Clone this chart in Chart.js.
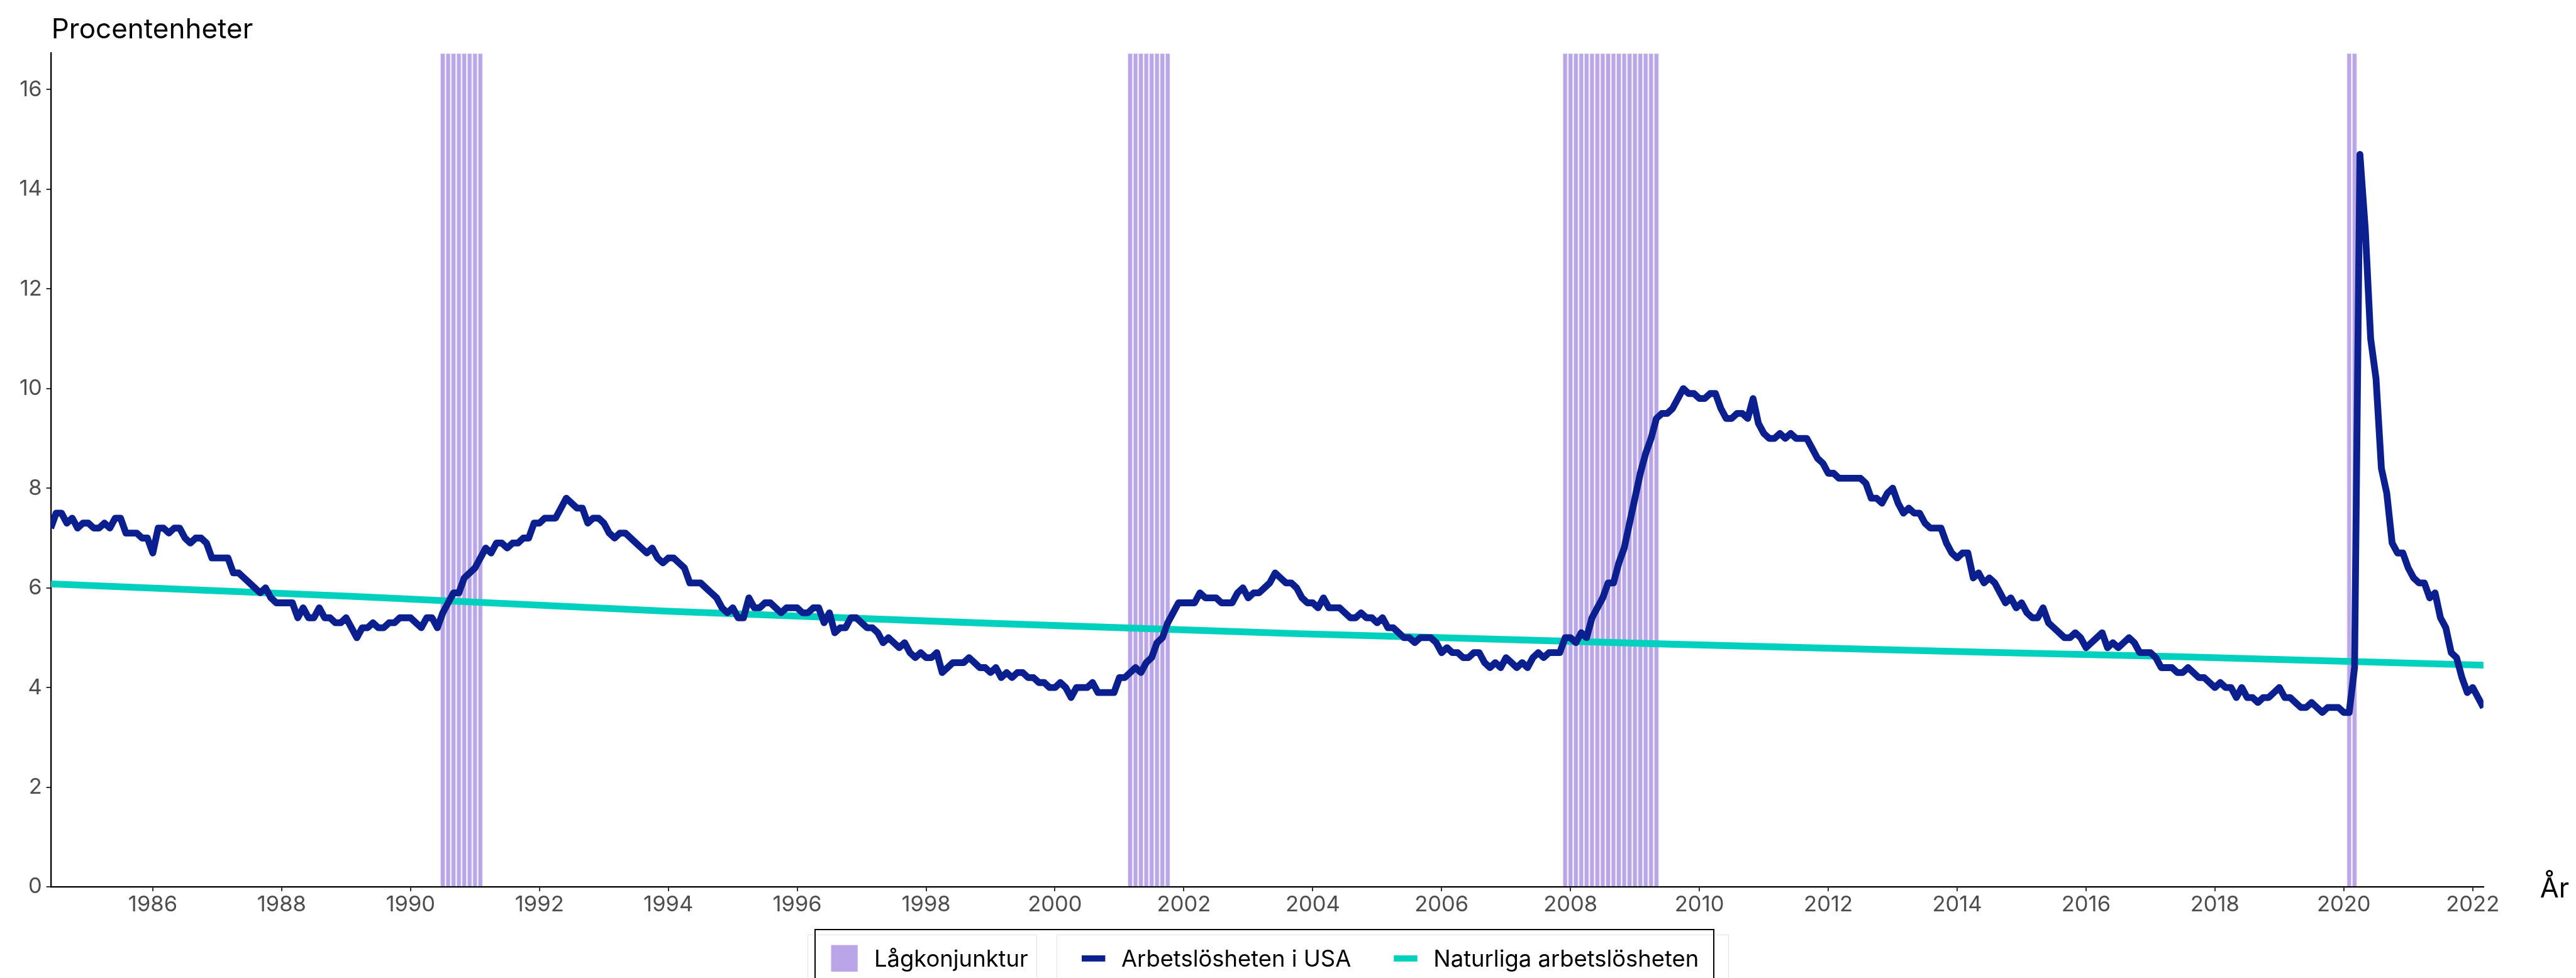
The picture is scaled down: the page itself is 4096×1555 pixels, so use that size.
<!DOCTYPE html>
<html>
<head>
<meta charset="utf-8">
<script src="https://cdn.jsdelivr.net/npm/chart.js@4.4.1/dist/chart.umd.min.js"></script>
<style>
  html, body { margin: 0; padding: 0; background: #fff; }
  #wrap { width: 4096px; height: 1555px; }
</style>
</head>
<body>
<div id="wrap"><canvas id="chart" width="4096" height="1555"></canvas></div>
<script>
// monthly US unemployment rate (%), first value is June 1984
var unempStart = [1984, 6];
var unempRate = [
  7.2, 7.5, 7.5, 7.3, 7.4, 7.2, 7.3,
  7.3, 7.2, 7.2, 7.3, 7.2, 7.4, 7.4, 7.1, 7.1, 7.1, 7.0, 7.0,
  6.7, 7.2, 7.2, 7.1, 7.2, 7.2, 7.0, 6.9, 7.0, 7.0, 6.9, 6.6,
  6.6, 6.6, 6.6, 6.3, 6.3, 6.2, 6.1, 6.0, 5.9, 6.0, 5.8, 5.7,
  5.7, 5.7, 5.7, 5.4, 5.6, 5.4, 5.4, 5.6, 5.4, 5.4, 5.3, 5.3,
  5.4, 5.2, 5.0, 5.2, 5.2, 5.3, 5.2, 5.2, 5.3, 5.3, 5.4, 5.4,
  5.4, 5.3, 5.2, 5.4, 5.4, 5.2, 5.5, 5.7, 5.9, 5.9, 6.2, 6.3,
  6.4, 6.6, 6.8, 6.7, 6.9, 6.9, 6.8, 6.9, 6.9, 7.0, 7.0, 7.3,
  7.3, 7.4, 7.4, 7.4, 7.6, 7.8, 7.7, 7.6, 7.6, 7.3, 7.4, 7.4,
  7.3, 7.1, 7.0, 7.1, 7.1, 7.0, 6.9, 6.8, 6.7, 6.8, 6.6, 6.5,
  6.6, 6.6, 6.5, 6.4, 6.1, 6.1, 6.1, 6.0, 5.9, 5.8, 5.6, 5.5,
  5.6, 5.4, 5.4, 5.8, 5.6, 5.6, 5.7, 5.7, 5.6, 5.5, 5.6, 5.6,
  5.6, 5.5, 5.5, 5.6, 5.6, 5.3, 5.5, 5.1, 5.2, 5.2, 5.4, 5.4,
  5.3, 5.2, 5.2, 5.1, 4.9, 5.0, 4.9, 4.8, 4.9, 4.7, 4.6, 4.7,
  4.6, 4.6, 4.7, 4.3, 4.4, 4.5, 4.5, 4.5, 4.6, 4.5, 4.4, 4.4,
  4.3, 4.4, 4.2, 4.3, 4.2, 4.3, 4.3, 4.2, 4.2, 4.1, 4.1, 4.0,
  4.0, 4.1, 4.0, 3.8, 4.0, 4.0, 4.0, 4.1, 3.9, 3.9, 3.9, 3.9,
  4.2, 4.2, 4.3, 4.4, 4.3, 4.5, 4.6, 4.9, 5.0, 5.3, 5.5, 5.7,
  5.7, 5.7, 5.7, 5.9, 5.8, 5.8, 5.8, 5.7, 5.7, 5.7, 5.9, 6.0,
  5.8, 5.9, 5.9, 6.0, 6.1, 6.3, 6.2, 6.1, 6.1, 6.0, 5.8, 5.7,
  5.7, 5.6, 5.8, 5.6, 5.6, 5.6, 5.5, 5.4, 5.4, 5.5, 5.4, 5.4,
  5.3, 5.4, 5.2, 5.2, 5.1, 5.0, 5.0, 4.9, 5.0, 5.0, 5.0, 4.9,
  4.7, 4.8, 4.7, 4.7, 4.6, 4.6, 4.7, 4.7, 4.5, 4.4, 4.5, 4.4,
  4.6, 4.5, 4.4, 4.5, 4.4, 4.6, 4.7, 4.6, 4.7, 4.7, 4.7, 5.0,
  5.0, 4.9, 5.1, 5.0, 5.4, 5.6, 5.8, 6.1, 6.1, 6.5, 6.8, 7.3,
  7.8, 8.3, 8.7, 9.0, 9.4, 9.5, 9.5, 9.6, 9.8, 10.0, 9.9, 9.9,
  9.8, 9.8, 9.9, 9.9, 9.6, 9.4, 9.4, 9.5, 9.5, 9.4, 9.8, 9.3,
  9.1, 9.0, 9.0, 9.1, 9.0, 9.1, 9.0, 9.0, 9.0, 8.8, 8.6, 8.5,
  8.3, 8.3, 8.2, 8.2, 8.2, 8.2, 8.2, 8.1, 7.8, 7.8, 7.7, 7.9,
  8.0, 7.7, 7.5, 7.6, 7.5, 7.5, 7.3, 7.2, 7.2, 7.2, 6.9, 6.7,
  6.6, 6.7, 6.7, 6.2, 6.3, 6.1, 6.2, 6.1, 5.9, 5.7, 5.8, 5.6,
  5.7, 5.5, 5.4, 5.4, 5.6, 5.3, 5.2, 5.1, 5.0, 5.0, 5.1, 5.0,
  4.8, 4.9, 5.0, 5.1, 4.8, 4.9, 4.8, 4.9, 5.0, 4.9, 4.7, 4.7,
  4.7, 4.6, 4.4, 4.4, 4.4, 4.3, 4.3, 4.4, 4.3, 4.2, 4.2, 4.1,
  4.0, 4.1, 4.0, 4.0, 3.8, 4.0, 3.8, 3.8, 3.7, 3.8, 3.8, 3.9,
  4.0, 3.8, 3.8, 3.7, 3.6, 3.6, 3.7, 3.6, 3.5, 3.6, 3.6, 3.6,
  3.5, 3.5, 4.4, 14.7, 13.2, 11.0, 10.2, 8.4, 7.9, 6.9, 6.7, 6.7,
  6.4, 6.2, 6.1, 6.1, 5.8, 5.9, 5.4, 5.2, 4.7, 4.6, 4.2, 3.9,
  4.0, 3.8, 3.6
];

// natural rate of unemployment at a few points
var natYears = [1984.42, 1989.08, 1994.0, 1998.98, 2003.79, 2006.0, 2009.56, 2014.37, 2017.44, 2022.17];
var natRate  = [6.08, 5.83, 5.53, 5.29, 5.08, 5.00, 4.87, 4.71, 4.62, 4.45];

// recessions, first and last shaded month
var recessions = [
  ['1990-07', '1991-02'],
  ['2001-03', '2001-10'],
  ['2007-12', '2009-05'],
  ['2020-02', '2020-03']
];

var xTicks = [1986, 1988, 1990, 1992, 1994, 1996, 1998, 2000, 2002, 2004, 2006, 2008, 2010, 2012, 2014, 2016, 2018, 2020, 2022];
var yTicks = [0, 2, 4, 6, 8, 10, 12, 14, 16];
var yMax = 16.73;

var seriesNames = ['Lågkonjunktur', 'Arbetslösheten i USA', 'Naturliga arbetslösheten'];
var colRecession = '#BBA5E9';
var colUnemp = '#0B1F8F';
var colNatural = '#00D0BE';

window.onload = function() {
    Chart.defaults.font.family = 'Inter';
    drawChart();
}

function buildUnemp() {
    var first = unempStart[0] * 12 + unempStart[1] - 1;
    return unempRate.map(function(v, i) { return { x: (first + i) / 12, y: v }; });
}

function buildRecessions() {
    var pts = [];
    recessions.forEach(function(r) {
        var a = r[0].split('-').map(Number);
        var b = r[1].split('-').map(Number);
        for (var k = a[0] * 12 + a[1] - 1; k <= b[0] * 12 + b[1] - 1; k++) {
            pts.push({ x: k / 12, y: yMax });
        }
    });
    return pts;
}

// axis titles and the boxed legend at the bottom
var extrasPlugin = {
    id: 'extras',
    afterDraw: function(chart) {
        var ctx = chart.ctx, area = chart.chartArea;
        var ds = chart.data.datasets;
        ctx.save();
        ctx.textBaseline = 'alphabetic';
        ctx.fillStyle = '#000';
        ctx.font = '44px Inter';
        ctx.fillText('Procentenheter', area.left + 1, 61);
        ctx.font = '43.5px Inter';
        ctx.fillText('År', area.right + 90, 1427);

        // legend frames
        ctx.lineWidth = 1;
        ctx.strokeStyle = '#E2E2E2';
        ctx.strokeRect(1284.5, 1486.5, 364, 90);
        ctx.strokeRect(1680.5, 1486.5, 1068, 90);
        ctx.lineWidth = 2;
        ctx.strokeStyle = '#000';
        ctx.strokeRect(1296, 1478, 1429, 100);

        ctx.font = '36.4px Inter';
        // recession key
        ctx.fillStyle = ds[2].backgroundColor;
        ctx.fillRect(1321.5, 1502.6, 42.3, 42.3);
        ctx.fillStyle = '#000';
        ctx.fillText(ds[2].label, 1390, 1537);
        // line keys
        var x = 1720;
        [ds[0], ds[1]].forEach(function(d) {
            ctx.fillStyle = d.borderColor;
            ctx.fillRect(x, 1519, 37.4, 9.8);
            ctx.fillStyle = '#000';
            ctx.fillText(d.label, x + 63, 1537);
            x += 63 + ctx.measureText(d.label).width + 68;
        });
        ctx.restore();
    }
};

function drawChart() {
    var ctx = document.getElementById('chart').getContext('2d');
    var unempPts = buildUnemp();
    var natPts = natYears.map(function(y, i) { return { x: y, y: natRate[i] }; });

    new Chart(ctx, {
        type: 'line',
        data: {
            datasets: [{
                label: seriesNames[1],
                data: unempPts,
                borderColor: colUnemp,
                borderWidth: 10.8,
                borderJoinStyle: 'round',
                pointRadius: 0,
                tension: 0,
                fill: false,
                order: 1
            }, {
                label: seriesNames[2],
                data: natPts,
                borderColor: colNatural,
                borderWidth: 10.8,
                pointRadius: 0,
                tension: 0,
                fill: false,
                order: 2
            }, {
                type: 'bar',
                label: seriesNames[0],
                data: buildRecessions(),
                backgroundColor: colRecession,
                borderColor: 'rgba(175,175,185,0.35)',
                borderWidth: 1,
                categoryPercentage: 1,
                barPercentage: 0.94,
                order: 3
            }]
        },
        options: {
            responsive: false,
            animation: false,
            devicePixelRatio: 1,
            events: [],
            layout: { padding: { top: 84.6, right: 147.2, left: 0, bottom: 0 } },
            plugins: {
                legend: { display: false },
                tooltip: { enabled: false }
            },
            scales: {
                x: {
                    type: 'linear',
                    min: unempPts[0].x,
                    max: unempPts[unempPts.length - 1].x,
                    offset: false,
                    grid: { drawOnChartArea: false, drawTicks: true, tickLength: 7, color: '#333', lineWidth: 2, offset: false },
                    border: { display: true, color: '#000', width: 2.3 },
                    ticks: {
                        font: { size: 34.5 },
                        color: '#4D4D4D',
                        padding: 1,
                        maxRotation: 0,
                        autoSkip: false,
                        callback: function(v) { return String(v); }
                    },
                    afterBuildTicks: function(s) { s.ticks = xTicks.map(function(v) { return { value: v }; }); },
                    afterFit: function(s) { s.height = 144.9; }
                },
                y: {
                    min: 0,
                    max: yMax,
                    grid: { drawOnChartArea: false, drawTicks: true, tickLength: 7, color: '#333', lineWidth: 2 },
                    border: { display: true, color: '#000', width: 2.3 },
                    ticks: {
                        font: { size: 34.5 },
                        color: '#4D4D4D',
                        padding: 7,
                        callback: function(v) { return String(v); }
                    },
                    afterBuildTicks: function(s) { s.ticks = yTicks.map(function(v) { return { value: v }; }); },
                    afterFit: function(s) { s.width = 80.7; }
                }
            }
        },
        plugins: [extrasPlugin]
    });
}
</script>
</body>
</html>
